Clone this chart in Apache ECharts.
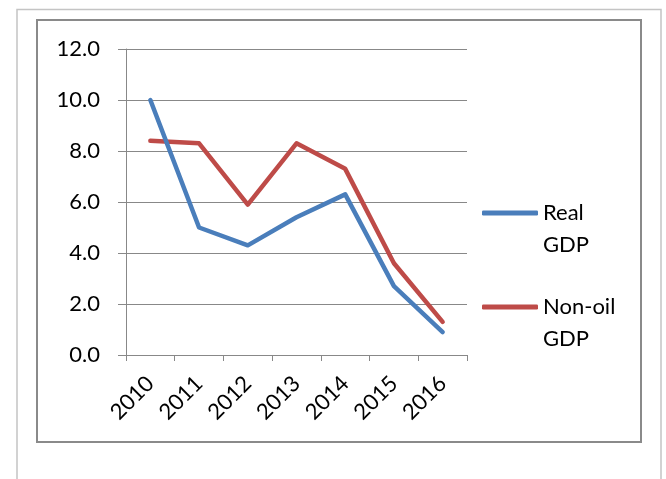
<!DOCTYPE html>
<html>
<head>
<meta charset="utf-8">
<script src="https://cdn.jsdelivr.net/npm/echarts@6/dist/echarts.min.js"></script>
<style>
  html, body { margin: 0; padding: 0; background: #fff; }
  #chart { width: 666px; height: 479px; }
</style>
</head>
<body>
<div id="chart"></div>
<script>
// Growth rates (%) by year
var years = ['2010', '2011', '2012', '2013', '2014', '2015', '2016'];
var realGdp = [10.0, 5.0, 4.3, 5.4, 6.3, 2.7, 0.9];
var nonOilGdp = [8.4, 8.3, 5.9, 8.3, 7.3, 3.6, 1.3];
var yTicks = { min: 0, max: 12, step: 2 };

var FONT = 'Lato, "Open Sans", sans-serif';
var GRID_GRAY = '#888888';
var BLUE = '#4a7ebb';
var RED = '#be4b48';
var TEXT = '#000000';

var chart = echarts.init(document.getElementById('chart'), null, { renderer: 'canvas' });

// One legend per series; the name wraps onto two lines and a blank first
// line keeps the swatch level with the first word.
function legendBlock(name, iconY) {
  return {
    data: [{ name: name, icon: 'roundRect' }],
    left: 482,
    top: iconY - 48,
    orient: 'vertical',
    padding: 0,
    itemWidth: 56,
    itemHeight: 5,
    selectedMode: false,
    formatter: function (n) { return '\n' + n.replace(' ', '\n'); },
    textStyle: {
      fontFamily: FONT,
      fontSize: 22,
      color: TEXT,
      lineHeight: 32
    }
  };
}

chart.setOption({
  animation: false,
  backgroundColor: '#ffffff',
  graphic: [
    {
      // outer frame (open at the bottom)
      type: 'polyline',
      shape: { points: [[17, 479], [17, 9.5], [661, 9.5], [661, 479]] },
      style: { stroke: '#c4c4c4', lineWidth: 1.5, fill: null },
      silent: true, z: -10
    },
    {
      // chart border
      type: 'rect',
      shape: { x: 37, y: 20, width: 604, height: 422 },
      style: { stroke: '#8a8a8a', lineWidth: 2, fill: null },
      silent: true, z: -10
    }
  ],
  grid: { left: 126, right: 199, top: 49, bottom: 124, containLabel: false },
  legend: [
    legendBlock('Real GDP', 213),
    legendBlock('Non-oil GDP', 307)
  ],
  xAxis: {
    type: 'category',
    data: years,
    boundaryGap: true,
    axisLine: { show: true, lineStyle: { color: GRID_GRAY, width: 1 } },
    axisTick: { show: true, length: 6, alignWithLabel: false, lineStyle: { color: GRID_GRAY, width: 1 } },
    axisLabel: {
      rotate: 45,
      margin: 25,
      interval: 0,
      fontFamily: FONT,
      fontSize: 22,
      color: TEXT
    },
    splitLine: { show: false }
  },
  yAxis: {
    type: 'value',
    min: yTicks.min,
    max: yTicks.max,
    interval: yTicks.step,
    axisLine: { show: true, lineStyle: { color: GRID_GRAY, width: 1 } },
    axisTick: { show: true, length: 8, lineStyle: { color: GRID_GRAY, width: 1 } },
    axisLabel: {
      margin: 26,
      fontFamily: FONT,
      fontSize: 22,
      color: TEXT,
      formatter: function (v) { return v.toFixed(1); }
    },
    splitLine: { show: true, lineStyle: { color: GRID_GRAY, width: 1 } }
  },
  series: [
    {
      name: 'Real GDP',
      type: 'line',
      data: realGdp,
      symbol: 'none',
      color: BLUE,
      lineStyle: { color: BLUE, width: 4.5, cap: 'round', join: 'round' },
      z: 3
    },
    {
      name: 'Non-oil GDP',
      type: 'line',
      data: nonOilGdp,
      symbol: 'none',
      color: RED,
      lineStyle: { color: RED, width: 4.5, cap: 'round', join: 'round' },
      z: 2
    }
  ]
});
</script>
</body>
</html>
